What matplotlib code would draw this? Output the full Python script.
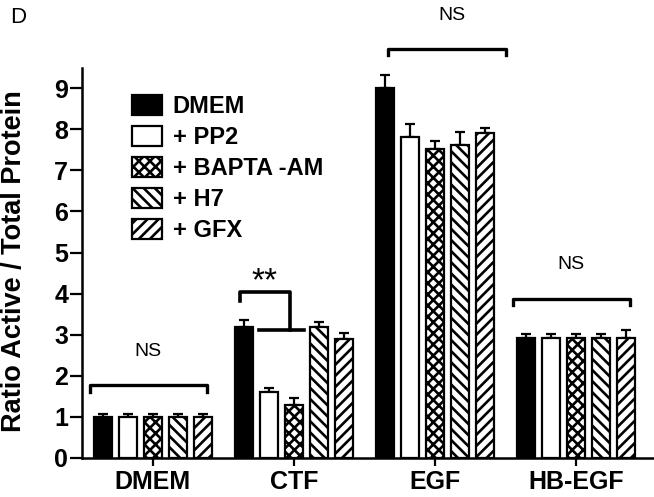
import matplotlib
matplotlib.use("Agg")
import matplotlib.pyplot as plt
import numpy as np

plt.rcParams['font.family'] = ['Liberation Sans', 'DejaVu Sans']
plt.rcParams['hatch.linewidth'] = 1.9

groups = ["DMEM", "CTF", "EGF", "HB-EGF"]
series = ["DMEM", "+ PP2", "+ BAPTA -AM", "+ H7", "+ GFX"]
means = {
    "DMEM":        [1.0, 3.2, 9.0, 2.93],
    "+ PP2":       [1.0, 1.6, 7.82, 2.93],
    "+ BAPTA -AM": [1.0, 1.3, 7.52, 2.93],
    "+ H7":        [1.0, 3.2, 7.62, 2.93],
    "+ GFX":       [1.0, 2.9, 7.92, 2.93],
}
errs = {
    "DMEM":        [0.08, 0.15, 0.33, 0.08],
    "+ PP2":       [0.08, 0.10, 0.30, 0.08],
    "+ BAPTA -AM": [0.08, 0.17, 0.20, 0.08],
    "+ H7":        [0.08, 0.12, 0.31, 0.08],
    "+ GFX":       [0.08, 0.14, 0.10, 0.18],
}
face = ["black", "white", "white", "white", "white"]
hatches = [None, None, "xxx", "\\\\\\", "///"]
yticks = [0, 1, 2, 3, 4, 5, 6, 7, 8, 9]

fig = plt.figure(figsize=(6.54, 4.97), dpi=100)
ax = fig.add_axes([0.1254, 0.0785, 0.8746, 0.7845])

x = np.arange(len(groups))
pitch = 0.177
width = 0.128
for i, s in enumerate(series):
    pos = x + (i - 2) * pitch
    ax.bar(pos, means[s], width, color=face[i], edgecolor="black",
           linewidth=1.6, hatch=hatches[i], label=s, zorder=2)
    ax.errorbar(pos, means[s], yerr=[np.zeros(len(groups)), errs[s]],
                fmt="none", ecolor="black", elinewidth=1.6, capsize=3.5,
                capthick=1.6, zorder=1)

ax.set_xlim(-0.5, 3.55)
ax.set_ylim(0, 9.49)
ax.set_yticks(yticks)
ax.set_yticklabels([str(t) for t in yticks], fontsize=18, fontweight="bold")
ax.set_xticks(x)
ax.set_xticklabels(groups, fontsize=18, fontweight="bold")
ax.tick_params(axis="y", width=1.6, length=9, pad=1)
ax.tick_params(axis="x", width=1.6, length=6, pad=3)
for sp in ["top", "right"]:
    ax.spines[sp].set_visible(False)
for sp in ["left", "bottom"]:
    ax.spines[sp].set_linewidth(1.8)
ax.set_ylabel("Ratio Active / Total Protein", fontsize=19.5, fontweight="bold")
ax.yaxis.set_label_coords(-0.096, 0.505)

# brackets
def bracket(x0, x1, y, drop):
    ax.plot([x0, x0, x1, x1], [y - drop, y, y, y - drop], color="black",
            lw=2.4, clip_on=False, solid_joinstyle="round")

bracket(-0.445, 0.385, 1.78, 0.18)
ax.text(-0.03, 2.58, "NS", ha="center", va="center", fontsize=14)
bracket(1.67, 2.50, 9.95, 0.15)
ax.text(2.12, 10.78, "NS", ha="center", va="center", fontsize=14)
bracket(2.55, 3.38, 3.87, 0.15)
ax.text(2.96, 4.7, "NS", ha="center", va="center", fontsize=14)
# ** bracket
ax.plot([0.62, 0.62, 0.97, 0.97], [3.82, 4.04, 4.04, 3.11], color="black", lw=2.6,
        clip_on=False)
ax.plot([0.755, 1.07], [3.11, 3.11], color="black", lw=2.6, clip_on=False)
ax.text(0.79, 4.3, "**", ha="center", va="center", fontsize=24)

leg = ax.legend(loc="upper left", bbox_to_anchor=(132 / 654, 1 - 95 / 497),
                bbox_transform=fig.transFigure, frameon=False,
                borderpad=0, borderaxespad=0,
                prop={"weight": "bold", "size": 17}, handlelength=1.27,
                handleheight=0.93, labelspacing=0.33, handletextpad=0.45)

fig.text(0.015, 0.965, "D", fontsize=16, va="center")

fig.savefig("out.png", dpi=100)
